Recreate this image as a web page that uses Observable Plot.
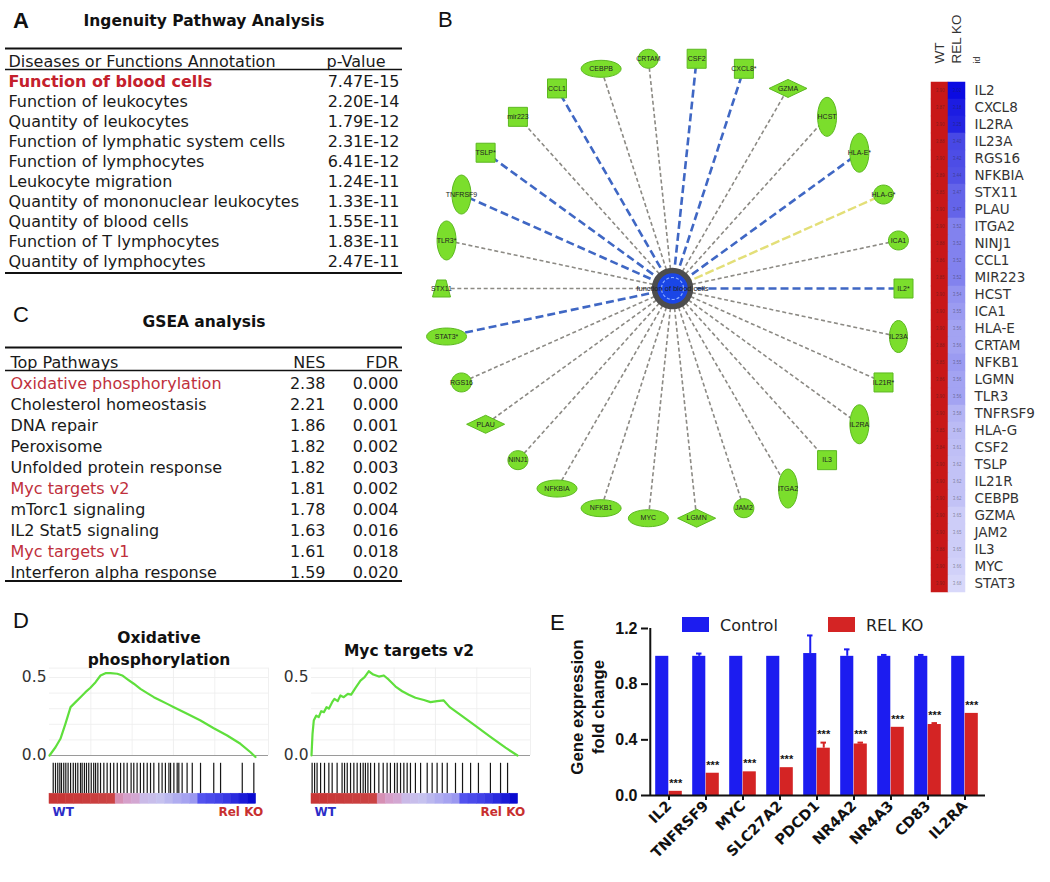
<!DOCTYPE html>
<html><head><meta charset="utf-8">
<script src="https://cdn.jsdelivr.net/npm/d3@7"></script>
<script src="https://cdn.jsdelivr.net/npm/@observablehq/plot@0.6"></script>
<style>
body{margin:0;background:#fff;}
#root{position:relative;width:1050px;height:882px;overflow:hidden;background:#fff;}
.pn{position:absolute;}
.pn svg{max-width:none;overflow:visible;}
.lab{position:absolute;white-space:nowrap;line-height:1;color:#111;}
</style></head><body><div id="root"></div>
<script>
// ---------------- DATA ----------------
const ipaHeader = ["Diseases or Functions Annotation", "p-Value"];
const ipaFunctions = ["Function of blood cells","Function of leukocytes","Quantity of leukocytes","Function of lymphatic system cells","Function of lymphocytes","Leukocyte migration","Quantity of mononuclear leukocytes","Quantity of blood cells","Function of T lymphocytes","Quantity of lymphocytes"];
const ipaPValues = ["7.47E-15","2.20E-14","1.79E-12","2.31E-12","6.41E-12","1.24E-11","1.33E-11","1.55E-11","1.83E-11","2.47E-11"];

const gseaHeader = ["Top Pathways","NES","FDR"];
const gseaPathways = ["Oxidative phosphorylation","Cholesterol homeostasis","DNA repair","Peroxisome","Unfolded protein response","Myc targets v2","mTorc1 signaling","IL2 Stat5 signaling","Myc targets v1","Interferon alpha response"];
const gseaNES = ["2.38","2.21","1.86","1.82","1.82","1.81","1.78","1.63","1.61","1.59"];
const gseaFDR = ["0.000","0.000","0.001","0.002","0.003","0.002","0.004","0.016","0.018","0.020"];
const gseaHighlighted = ["Oxidative phosphorylation","Myc targets v2","Myc targets v1"];

// network genes in circular order (counter-clockwise from the right)
const networkGenes = ["IL2*","ICA1","HLA-G*","HLA-E*","HCST","GZMA","CXCL8*","CSF2","CRTAM","CEBPB","CCL1","mir223","TSLP*","TNFRSF9","TLR3*","STX11","STAT3*","RGS16","PLAU","NINJ1","NFKBIA","NFKB1","MYC","LGMN","JAM2","ITGA2","IL3","IL2RA","IL21R*","IL23A"];
const networkShapes = ["square","circle","circle","tall","tall","diamond","square","square","circle","wide","square","square","square","tall","tall","trap","wide","circle","diamond","circle","wide","wide","wide","diamond","circle","tall","square","tall","square","tallS"];
const networkEdges = ["blue","gray","yellow","blue","gray","gray","blue","blue","gray","gray","blue","gray","blue","blue","gray","gray","blue","gray","gray","gray","gray","gray","gray","gray","gray","gray","gray","gray","gray","gray"];
const networkCenter = "function of blood cells";

const heatmapCols = ["WT","REL KO"];
const heatmapGenes = ["IL2","CXCL8","IL2RA","IL23A","RGS16","NFKBIA","STX11","PLAU","ITGA2","NINJ1","CCL1","MIR223","HCST","ICA1","HLA-E","CRTAM","NFKB1","LGMN","TLR3","TNFRSF9","HLA-G","CSF2","TSLP","IL21R","CEBPB","GZMA","JAM2","IL3","MYC","STAT3"];
const heatmapWT = [3.90,3.87,3.90,3.88,3.90,3.89,3.85,3.90,3.90,3.88,3.86,3.85,3.90,3.90,3.90,3.88,3.85,3.86,3.90,3.90,3.85,3.84,3.90,3.90,3.90,3.90,3.90,3.88,3.90,3.90];
const heatmapKO = [3.02,3.18,3.25,3.40,3.42,3.44,3.47,3.47,3.52,3.52,3.52,3.52,3.54,3.55,3.56,3.56,3.55,3.56,3.56,3.58,3.60,3.61,3.62,3.62,3.62,3.65,3.65,3.65,3.66,3.68];

const oxphosRank = [0,2.9,5.3,7.7,10.2,12.6,15.0,17.4,19.8,22.3,24.7,27.1,29.5,32.8,35.2,37.6,40.8,44.0,47.3,50.5,53.7,57.0,60.2,66.6,73.1,79.5,86.0,92.4,97.3,99.7];
const oxphosES   = [0,0.053,0.107,0.203,0.31,0.342,0.374,0.406,0.434,0.47,0.513,0.528,0.528,0.524,0.513,0.49,0.46,0.427,0.40,0.374,0.353,0.331,0.31,0.267,0.224,0.175,0.128,0.075,0.021,-0.01];
const oxphosHits = [1.8,2.9,4.0,5.0,5.8,6.9,7.9,9.0,10.2,11.5,12.6,13.7,15.0,15.8,16.9,17.9,19.0,20.2,21.4,22.3,23.4,24.7,26.3,27.9,29.5,31.1,32.8,34.4,36.0,37.6,39.5,40.8,42.4,44.0,45.6,47.3,48.9,50.5,52.9,54.5,56.1,57.8,58.6,60.2,61.8,62.6,64.2,66.6,69.1,73.1,79.5,82.8,93.3,98.9];

const mycRank = [0,0.5,1.1,2.3,3.5,4.7,6.0,7.3,8.4,10.0,11.1,12.7,14.0,15.6,17.6,19.2,21.3,23.7,25.7,27.7,29.9,32.6,35.0,37.4,40.7,43.9,47.1,50.3,54.4,57.6,60.8,64.0,66.9,72.1,79.4,86.6,93.9,99.7];
const mycES   = [0,0.139,0.224,0.256,0.246,0.284,0.278,0.31,0.30,0.342,0.363,0.349,0.385,0.374,0.395,0.39,0.434,0.48,0.502,0.54,0.519,0.506,0.513,0.486,0.442,0.412,0.39,0.37,0.356,0.342,0.349,0.353,0.31,0.26,0.19,0.12,0.05,0];
const mycHits = [0.3,1.5,2.7,4.4,6.3,8.4,10.0,12.4,14.8,16.0,17.3,18.9,20.5,22.1,23.7,25.0,26.1,27.3,28.6,30.5,32.6,34.7,36.6,38.2,40.2,41.5,43.1,44.7,46.3,47.9,50.3,52.8,56.0,58.4,60.8,63.3,65.7,69.7,73.1,77.0,80.8,86.6,91.5,94.9];

const rankedMetric = [1,1,0.98,0.96,0.95,0.93,0.92,0.9,0.55,0.45,0.35,0.1,0.05,0,-0.05,-0.1,-0.15,-0.2,-0.55,-0.6,-0.65,-0.72,-0.8,-0.9,-1];

const qpcrGenes = ["IL2","TNFRSF9","MYC","SLC27A2","PDCD1","NR4A2","NR4A3","CD83","IL2RA"];
const controlMean = [1.0,1.0,1.0,1.0,1.02,1.0,1.0,1.0,1.0];
const controlErr  = [0,0.02,0,0,0.13,0.05,0.01,0.01,0];
const relkoMean   = [0.03,0.16,0.17,0.20,0.34,0.37,0.49,0.51,0.59];
const relkoErr    = [0,0,0,0,0.04,0.01,0,0.01,0];
const qpcrSeries = ["Control","REL KO"];
const qpcrYLabel = ["Gene expression","fold change"];

// ---------------- HELPERS ----------------
const root = document.getElementById("root");
const DV = "'DejaVu Sans', sans-serif";
const AR = "'Liberation Sans', Arial, sans-serif";
const baseStyle = (extra) => Object.assign({fontFamily: DV, fontSize: "16px", color: "#1a1a1a", background: "transparent", overflow: "visible"}, extra || {});
function place(node, left, top) {
  const d = document.createElement("div");
  d.className = "pn"; d.style.left = left + "px"; d.style.top = top + "px";
  d.appendChild(node); root.appendChild(d);
}
function label(text, left, top, css) {
  const d = document.createElement("div");
  d.className = "lab"; d.textContent = text;
  d.style.left = left + "px"; d.style.top = top + "px";
  d.style.cssText += css;
  root.appendChild(d);
  return d;
}

// ---------------- PANEL A ----------------
const ipaRows = ipaFunctions.map((name, i) => ({name, p: ipaPValues[i], row: i + 1, hi: i === 0}));
place(Plot.plot({
  width: 410, height: 292, marginTop: 0, marginBottom: 0, marginLeft: 5, marginRight: 8,
  style: baseStyle(),
  y: {type: "point", domain: d3.range(11), range: [50, 272], axis: null},
  marks: [
    Plot.text(["Ingenuity Pathway Analysis"], {frameAnchor: "top", lineAnchor: "middle", dy: 21, fontWeight: "bold", fontSize: 15.5, fill: "#111"}),
    Plot.ruleY([0], {dy: -13, stroke: "#111", strokeWidth: 2.2}),
    Plot.text([ipaHeader[0]], {y: () => 0, frameAnchor: "left", dx: 3, textAnchor: "start", fill: "#1a1a1a"}),
    Plot.text([ipaHeader[1]], {y: () => 0, frameAnchor: "right", dx: -17, textAnchor: "end", fill: "#1a1a1a"}),
    Plot.ruleY([0], {dy: 8, stroke: "#111", strokeWidth: 1.6}),
    Plot.text(ipaRows.filter(d => !d.hi), {y: "row", text: "name", frameAnchor: "left", dx: 3, textAnchor: "start", fill: "#1a1a1a"}),
    Plot.text(ipaRows.filter(d => d.hi), {y: "row", text: "name", frameAnchor: "left", dx: 3, textAnchor: "start", fill: "#c4202c", fontWeight: "bold"}),
    Plot.text(ipaRows, {y: "row", text: "p", frameAnchor: "right", dx: -3, textAnchor: "end", fill: "#1a1a1a"}),
    Plot.ruleY([10], {dy: 11.5, stroke: "#111", strokeWidth: 2.2})
  ]
}), 0, 0);
label("A", 13, 8, `font: bold 22px ${AR};`);

// ---------------- PANEL C ----------------
const gseaRows = gseaPathways.map((name, i) => ({name, nes: gseaNES[i], fdr: gseaFDR[i], row: i + 1, hi: gseaHighlighted.includes(name)}));
place(Plot.plot({
  width: 410, height: 300, marginTop: 0, marginBottom: 0, marginLeft: 5, marginRight: 8,
  style: baseStyle(),
  y: {type: "point", domain: d3.range(11), range: [49, 285], axis: null},
  marks: [
    Plot.text(["GSEA analysis"], {frameAnchor: "top", lineAnchor: "middle", dy: 22, fontWeight: "bold", fontSize: 15.5, fill: "#111"}),
    Plot.ruleY([0], {dy: -15, stroke: "#111", strokeWidth: 2.2}),
    Plot.text([gseaHeader[0]], {y: () => 0, frameAnchor: "left", dx: 5, textAnchor: "start"}),
    Plot.text([gseaHeader[1]], {y: () => 0, frameAnchor: "right", dx: -77, textAnchor: "end"}),
    Plot.text([gseaHeader[2]], {y: () => 0, frameAnchor: "right", dx: -4, textAnchor: "end"}),
    Plot.ruleY([0], {dy: 8, stroke: "#111", strokeWidth: 1.6}),
    Plot.text(gseaRows.filter(d => !d.hi), {y: "row", text: "name", frameAnchor: "left", dx: 5, textAnchor: "start", fill: "#1a1a1a"}),
    Plot.text(gseaRows.filter(d => d.hi), {y: "row", text: "name", frameAnchor: "left", dx: 5, textAnchor: "start", fill: "#c0303c"}),
    Plot.text(gseaRows, {y: "row", text: "nes", frameAnchor: "right", dx: -77, textAnchor: "end"}),
    Plot.text(gseaRows, {y: "row", text: "fdr", frameAnchor: "right", dx: -4, textAnchor: "end"}),
    Plot.ruleY([10], {dy: 8.5, stroke: "#111", strokeWidth: 2.2})
  ]
}), 0, 300);
label("C", 13, 302, `font: 22px ${AR};`);

// ---------------- PANEL B (network) ----------------
function ellipseSym(rx, ry) { const k = 0.5523; return {draw(c) { c.moveTo(rx, 0); c.bezierCurveTo(rx, k*ry, k*rx, ry, 0, ry); c.bezierCurveTo(-k*rx, ry, -rx, k*ry, -rx, 0); c.bezierCurveTo(-rx, -k*ry, -k*rx, -ry, 0, -ry); c.bezierCurveTo(k*rx, -ry, rx, -k*ry, rx, 0); c.closePath(); }}; }
function rectSym(w, h) { return {draw(c) { c.rect(-w/2, -h/2, w, h); }}; }
function diamondSym(w, h) { return {draw(c) { c.moveTo(w/2, 0); c.lineTo(0, h/2); c.lineTo(-w/2, 0); c.lineTo(0, -h/2); c.closePath(); }}; }
function trapSym(w, h) { return {draw(c) { c.moveTo(-w/2, h/2); c.lineTo(w/2, h/2); c.lineTo(w/4, -h/2); c.lineTo(-w/4, -h/2); c.closePath(); }}; }
const symbols = {square: rectSym(19, 19), circle: ellipseSym(10, 9.5), tall: ellipseSym(9.5, 19.5), tallS: ellipseSym(9, 16), wide: ellipseSym(20, 8.5), diamond: diamondSym(38, 18), trap: trapSym(18, 17)};
const nodes = networkGenes.map((g, i) => {
  const a = i * 2 * Math.PI / networkGenes.length;
  return {g, shape: networkShapes[i], edge: networkEdges[i], x: Math.cos(a), y: Math.sin(a)};
});
const edgeStyle = {
  gray: {stroke: "#8c8a84", strokeWidth: 1.6, strokeDasharray: "4,2.6"},
  blue: {stroke: "#3f67c4", strokeWidth: 2.6, strokeDasharray: "8,4"},
  yellow: {stroke: "#e3df78", strokeWidth: 2.4, strokeDasharray: "9,3"}
};
const GREEN = "#7bde2c", GREEN_S = "#5cb820";
place(Plot.plot({
  width: 490, height: 600, marginLeft: 21, marginRight: 7, marginTop: 57, marginBottom: 81,
  style: baseStyle({fontSize: "7px"}),
  x: {domain: [-1, 1], axis: null},
  y: {domain: [-1, 1], axis: null},
  marks: [
    ...["gray", "yellow", "blue"].map(t => Plot.link(nodes.filter(d => d.edge === t), {x1: 0, y1: 0, x2: "x", y2: "y", ...edgeStyle[t]})),
    ...Object.keys(symbols).map(s => Plot.dot(nodes.filter(d => d.shape === s), {x: "x", y: "y", r: 8, symbol: symbols[s], fill: GREEN, stroke: GREEN_S, strokeWidth: 1})),
    Plot.text(nodes, {x: "x", y: "y", text: "g", fontSize: 7, fill: "#222", fontFamily: AR}),
    Plot.dot([networkCenter], {x: 0, y: 0, r: 18, fill: "#1a46e6", stroke: "#4d4d4d", strokeWidth: 5.5}),
    Plot.dot([networkCenter], {x: 0, y: 0, r: 11, fill: "none", stroke: "#8fb0ff", strokeWidth: 1.2, strokeDasharray: "3,2"}),
    Plot.text([networkCenter], {x: 0, y: 0, text: d => d, fontSize: 7.5, fill: "#222", fontFamily: AR})
  ]
}), 420, 0);
label("B", 438, 7, `font: 22px ${AR};`);

// ---------------- HEATMAP ----------------
const hm = heatmapGenes.flatMap((g, i) => [{g, col: "WT", v: heatmapWT[i]}, {g, col: "REL KO", v: heatmapKO[i]}]);
place(Plot.plot({
  width: 125, height: 610, marginLeft: 5, marginRight: 0, marginTop: 0, marginBottom: 0,
  style: baseStyle({fontSize: "13.5px", color: "#333"}),
  x: {type: "band", domain: heatmapCols, range: [5, 40], padding: 0, axis: null},
  y: {type: "band", domain: heatmapGenes, range: [71, 602], padding: 0, axis: null},
  color: {type: "linear", domain: [3.02, 3.25, 3.44, 3.52, 3.58, 3.68, 3.70, 3.80], range: ["#0b0be2", "#2424e2", "#5252e6", "#8282ee", "#b4b4f4", "#d8d8fa", "#dcdcfa", "#c81818"], interpolate: "rgb", clamp: true},
  marks: [
    Plot.cell(hm, {x: "col", y: "g", fill: "v", stroke: "v", strokeWidth: 0.5, inset: 0}),
    Plot.text(hm, {x: "col", y: "g", text: d => d.v.toFixed(2), fontSize: 4.5, fill: "#222", fillOpacity: 0.45, fontFamily: AR}),
    Plot.text(heatmapGenes, {y: d => d, text: d => d, frameAnchor: "left", dx: 44, textAnchor: "start", fill: "#333"}),
    Plot.text(heatmapCols, {x: d => d, text: d => d, frameAnchor: "top", lineAnchor: "middle", dy: 63, rotate: -90, textAnchor: "start", fontSize: 13.5, fontFamily: AR, fill: "#333"}),
    Plot.text(["id"], {frameAnchor: "top-left", lineAnchor: "middle", dx: 47, dy: 63, rotate: -90, textAnchor: "start", fontSize: 9, fontFamily: AR, fill: "#444"})
  ]
}), 925, 0);

// ---------------- PANEL D ----------------
function gseaPlot(titleText, rank, es, hits, titleDx, titleDy) {
  const curve = rank.map((r, i) => ({r, v: es[i]}));
  const bar = rankedMetric.map((v, i) => ({x1: i * 100 / rankedMetric.length, x2: (i + 1) * 100 / rankedMetric.length, v}));
  return Plot.plot({
    width: 275, height: 230, marginLeft: 49, marginRight: 7, marginTop: 68, marginBottom: 10,
    style: baseStyle({color: "#333"}),
    x: {domain: [0, 106], range: [49, 268], axis: null},
    y: {domain: [0, 0.5], range: [155, 77], axis: null},
    color: {type: "linear", domain: [-1, -0.5, 0, 0.5, 0.85, 1], range: ["#0a0ad0", "#5a5af2", "#c6c2ef", "#d89cc6", "#cc4a4a", "#c83636"], interpolate: "rgb"},
    marks: [
      Plot.ruleY([0.1, 0.2, 0.3, 0.4, 0.5, 0.56], {stroke: "#ececec", strokeWidth: 0.8}),
      Plot.ruleX([20, 40, 60, 80, 106], {y1: 0, y2: 0.56, stroke: "#ececec", strokeWidth: 0.8}),
      Plot.ruleY([0], {stroke: "#9a9a9a", strokeWidth: 1}),
      Plot.line(curve, {x: "r", y: "v", stroke: "#5fdf3c", strokeWidth: 2.2}),
      Plot.ruleX(hits, {x: d => d, y1: -0.05, y2: -0.245, stroke: "#161616", strokeWidth: 1.2}),
      Plot.rect(bar, {x1: "x1", x2: "x2", y1: -0.245, y2: -0.31, fill: "v", stroke: "v", strokeWidth: 0.5}),
      Plot.axisY({ticks: [0, 0.5], tickFormat: ".1f", tickSize: 0, tickPadding: 3, label: null, fontSize: 15.5}),
      Plot.text([titleText], {frameAnchor: "top", lineAnchor: "middle", dx: titleDx, dy: titleDy, fontWeight: "bold", fontSize: 15.5, lineHeight: 1.45, fill: "#111"}),
      Plot.text(["WT"], {x: 0, y: -0.365, dx: 3, textAnchor: "start", fontWeight: "bold", fontSize: 12, fill: "#2c2cc8"}),
      Plot.text(["Rel KO"], {x: 100, y: -0.365, dx: 7, textAnchor: "end", fontWeight: "bold", fontSize: 12, fill: "#c83030"})
    ]
  });
}
place(gseaPlot("Oxidative\nphosphorylation", oxphosRank, oxphosES, oxphosHits, 0, -21.5), 0, 600);
place(gseaPlot("Myc targets v2", mycRank, mycES, mycHits, -12, -20), 262, 600);
label("D", 13, 608, `font: 22px ${AR};`);

// ---------------- PANEL E ----------------
const qpcr = qpcrGenes.map((gene, i) => ({gene, c: controlMean[i], ce: controlErr[i], k: relkoMean[i], ke: relkoErr[i]}));
const BLUE = "#1c1cf0", RED = "#d42424";
const bandW = (470 - 118 - 15) / qpcrGenes.length;
place(Plot.plot({
  width: 470, height: 292, marginLeft: 118, marginRight: 15, marginTop: 38, marginBottom: 87,
  style: baseStyle({fontWeight: "bold", color: "#111"}),
  x: {type: "band", domain: qpcrGenes, padding: 0, axis: null},
  y: {domain: [0, 1.2], axis: null},
  marks: [
    Plot.barY(qpcr, {x: "gene", y: "c", fill: BLUE, insetLeft: 5.2, insetRight: 18.7}),
    Plot.barY(qpcr, {x: "gene", y: "k", fill: RED, insetLeft: 18.7, insetRight: 5.2}),
    Plot.ruleX(qpcr.filter(d => d.ce > 0), {x: "gene", y1: "c", y2: d => d.c + d.ce, dx: -6.75, stroke: BLUE, strokeWidth: 2}),
    Plot.tickY(qpcr.filter(d => d.ce > 0), {x: "gene", y: d => d.c + d.ce, insetLeft: 9, insetRight: 22.5, stroke: BLUE, strokeWidth: 2}),
    Plot.ruleX(qpcr.filter(d => d.ke > 0), {x: "gene", y1: "k", y2: d => d.k + d.ke, dx: 6.75, stroke: RED, strokeWidth: 2}),
    Plot.tickY(qpcr.filter(d => d.ke > 0), {x: "gene", y: d => d.k + d.ke, insetLeft: 22.5, insetRight: 9, stroke: RED, strokeWidth: 2}),
    Plot.text(qpcr, {x: "gene", y: d => d.k + d.ke, dx: 6.75, dy: -8, text: () => "***", fontSize: 11, fontFamily: AR}),
    Plot.ruleY([0], {stroke: "#111", strokeWidth: 2}),
    Plot.ruleX([qpcrGenes[0]], {x: d => d, dx: -bandW / 2, y1: 0, y2: 1.2, stroke: "#111", strokeWidth: 2}),
    Plot.axisY({ticks: [0, 0.4, 0.8, 1.2], tickFormat: ".1f", tickSize: 7, strokeWidth: 2, tickPadding: 4, label: null, fontSize: 16, fontFamily: AR}),
    Plot.axisX({tickSize: 5, strokeWidth: 2, tickRotate: -45, tickPadding: 3, label: null, fontSize: 14.5})
  ]
}), 530, 590);
label("E", 550, 610, `font: 22px ${AR};`);
// y-axis title (rotated)
const yl = label("", 587.5, 707, `font: bold 16.8px ${AR}; line-height: 21px; text-align: center; transform: translate(-50%, -50%) rotate(-90deg); color:#111;`);
yl.innerHTML = qpcrYLabel.join("<br>");
// legend
const legendColors = [BLUE, RED], legendX = [682, 828];
qpcrSeries.forEach((s, i) => {
  const sw = document.createElement("div");
  sw.style.cssText = `position:absolute;left:${legendX[i]}px;top:617px;width:27px;height:15px;background:${legendColors[i]};`;
  root.appendChild(sw);
  label(s, legendX[i] + 38, 616, `font: 16px ${DV}; color:#222;`);
});
</script></body></html>
